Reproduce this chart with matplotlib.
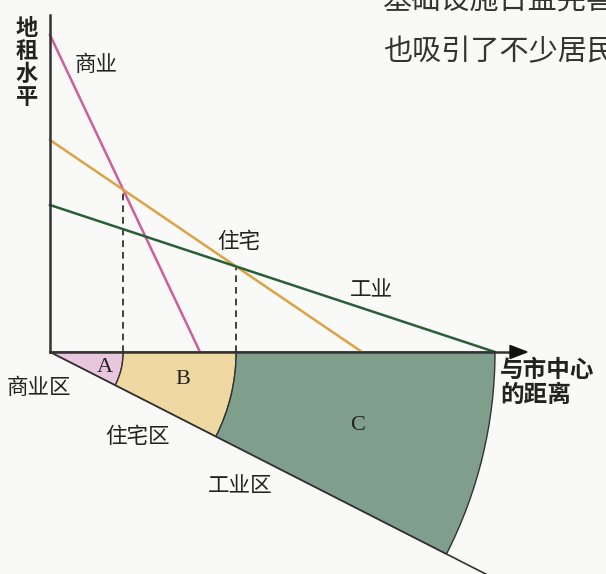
import numpy as np
import matplotlib
matplotlib.use("Agg")
import matplotlib.pyplot as plt
from matplotlib.patches import Wedge, Polygon

plt.rcParams['font.family'] = ['Noto Sans CJK SC', 'DejaVu Sans']

# bid-rent lines (distance unit = 100 px in the scan)
uses = ["商业", "住宅", "工业"]
rent_at_centre = [3.17, 2.12, 1.47]
zero_rent_dist = [1.50, 3.12, 4.45]
line_colors = ["#cf5f9a", "#dda245", "#285f36"]

zones = ["A", "B", "C"]
zone_names = ["商业区", "住宅区", "工业区"]
zone_colors = ["#e7c6de", "#f0d8a2", "#7f9e8c"]
fan_angle = -27.0  # degrees below distance axis

fig = plt.figure(figsize=(6.06, 5.74), dpi=100)
fig.patch.set_facecolor("#f9f9f7")
ax = fig.add_axes([0, 0, 1, 1])
ax.set_xlim(-0.50, 5.56)
ax.set_ylim(-2.22, 3.52)
ax.set_aspect("equal")
ax.axis("off")

def rent(i, d):
    return rent_at_centre[i] * (1 - d / zero_rent_dist[i])

def crossing(i, j):
    si = rent_at_centre[i] / zero_rent_dist[i]
    sj = rent_at_centre[j] / zero_rent_dist[j]
    d = (rent_at_centre[i] - rent_at_centre[j]) / (si - sj)
    return d, rent(i, d)

# zone boundaries
d1, r1 = crossing(0, 1)
d2, r2 = crossing(1, 2)
radii = [0, d1, d2, zero_rent_dist[2]]

# fan of land-use zones
for k in range(3):
    w = Wedge((0, 0), radii[k + 1], fan_angle, 0, width=radii[k + 1] - radii[k],
              facecolor=zone_colors[k], edgecolor="#333333", lw=1.0, zorder=1)
    ax.add_patch(w)

# lower edge of the fan, running out of the picture
a = np.deg2rad(fan_angle)
ax.plot([0, 5.2 * np.cos(a)], [0, 5.2 * np.sin(a)], color="#333333", lw=1.2, zorder=3)

# bid-rent lines
for i in range(3):
    ax.plot([0, zero_rent_dist[i]], [rent_at_centre[i], 0], color=line_colors[i],
            lw=1.8, zorder=4)

# dashed drop lines
for d, r in [(d1, r1), (d2, r2)]:
    ax.plot([d, d], [0, r], color="#222222", lw=1.2, ls=(0, (4, 3)), zorder=2)

# axes
ax.plot([0, 0], [0, 3.37], color="#333333", lw=1.8, zorder=5)
ax.plot([0, 4.62], [0, 0], color="#333333", lw=1.8, zorder=5)
ax.add_patch(Polygon([[4.60, 0.065], [4.77, 0], [4.60, -0.065]], closed=True,
                     color="#111111", zorder=6))

# labels
tc = "#222222"
ax.text(-0.23, 3.35, "地\n租\n水\n平", fontsize=16, fontweight="bold", color=tc,
        ha="center", va="top", linespacing=1.0)
ax.text(0.25, 2.87, uses[0], fontsize=15.5, fontweight=500, color=tc, ha="left", va="center")
ax.text(1.67, 1.10, uses[1], fontsize=15.5, fontweight=500, color=tc, ha="left", va="center")
ax.text(3.00, 0.62, uses[2], fontsize=15.5, fontweight=500, color=tc, ha="left", va="center")
ax.text(4.50, -0.30, "与市中心\n的距离", fontsize=17, fontweight="bold", color=tc,
        ha="left", va="center", linespacing=1.05)
zone_label_pos = [(-0.11, -0.36), (0.87, -0.85), (1.90, -1.34)]
for name, (x, y) in zip(zone_names, zone_label_pos):
    ax.text(x, y, name, fontsize=15.5, fontweight=500, color=tc, ha="center", va="center")

zone_letter_pos = [(0.55, -0.16), (1.33, -0.28), (3.08, -0.73)]
for z, (x, y) in zip(zones, zone_letter_pos):
    ax.text(x, y, z, fontsize=16, color=tc, ha="center", va="center",
            family="Liberation Serif")

# bits of book text around the figure
ax.text(3.33, 3.50, "基础设施日益完善", fontsize=21, color="#333333",
        ha="left", va="center")
ax.text(3.33, 3.00, "也吸引了不少居民", fontsize=21, color="#333333",
        ha="left", va="center")

fig.savefig("out.png", dpi=100, facecolor=fig.get_facecolor())
